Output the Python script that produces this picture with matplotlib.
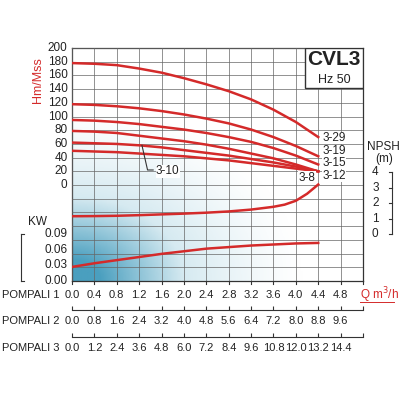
import matplotlib
matplotlib.use('Agg')
import matplotlib.pyplot as plt
import numpy as np
from matplotlib.colors import LinearSegmentedColormap

plt.rcParams['font.family'] = ['Liberation Sans', 'DejaVu Sans']

RED = '#d42a2a'
TXT = '#222222'

q = [0.0, 0.4, 0.8, 1.2, 1.6, 2.0, 2.4, 2.8, 3.2, 3.6, 4.0, 4.4]
head_curves = {
    '3-29': [178, 177, 175, 170, 164, 156, 147, 137, 125, 110, 92, 70],
    '3-19': [118, 117, 115, 112, 108, 103, 97, 90, 81, 70, 57, 42],
    '3-15': [95, 94, 92, 89, 85, 81, 76, 70, 63, 54, 43, 30],
    '3-12': [79, 78, 76, 72, 68, 64, 59, 53, 46, 39, 30, 20],
    '3-10': [62, 61, 60, 58, 55, 51, 47, 43, 38, 33, 27, 20],
    '3-8': [50, 49, 48, 46, 44, 42, 39, 36, 32, 28, 24, 20],
}
npsh_q = [0.0, 0.4, 0.8, 1.2, 1.6, 2.0, 2.4, 2.8, 3.2, 3.6, 3.8, 4.0, 4.2, 4.4]
npsh_m = [1.15, 1.16, 1.18, 1.22, 1.27, 1.32, 1.38, 1.46, 1.58, 1.76, 1.9, 2.15, 2.6, 3.2]
kw_q = [0.0, 0.4, 0.8, 1.2, 1.6, 2.0, 2.4, 2.8, 3.2, 3.6, 4.0, 4.4]
kw_val = [0.027, 0.034, 0.040, 0.046, 0.052, 0.057, 0.062, 0.065, 0.068, 0.070, 0.072, 0.073]

q1_ticks = [0.0, 0.4, 0.8, 1.2, 1.6, 2.0, 2.4, 2.8, 3.2, 3.6, 4.0, 4.4, 4.8]
q2_labels = ['0.0', '0.8', '1.6', '2.4', '3.2', '4.0', '4.8', '5.6', '6.4', '7.2', '8.0', '8.8', '9.6']
q3_labels = ['0.0', '1.2', '2.4', '3.6', '4.8', '6.0', '7.2', '8.4', '9.6', '10.8', '12.0', '13.2', '14.4']
head_ticks = [0, 20, 40, 60, 80, 100, 120, 140, 160, 180, 200]
kw_ticks = [0.0, 0.03, 0.06, 0.09]
npsh_ticks = [0, 1, 2, 3, 4]


def kw_to_head(v):
    return -140 + np.asarray(v) * 761


def npsh_to_head(v):
    return -71.5 + np.asarray(v) * 22.6


fig = plt.figure(figsize=(4, 4), dpi=100)
ax = fig.add_axes([0.18, 0.2975, 0.7275, 0.5825])
ax.set_xlim(0, 5.2)
ax.set_ylim(-140, 200)

# blue gradient background, strongest in bottom-left corner
xx, yy = np.meshgrid(np.linspace(0, 1, 200), np.linspace(0, 1, 200))
strength = np.clip(1 - np.sqrt((xx / 0.8) ** 2 + ((1 - yy) / 0.75) ** 2), 0, 1) ** 1.3
cmap = LinearSegmentedColormap.from_list('bg', ['#ffffff', '#d6eaf1', '#4a9fbf'])
ax.imshow(strength, extent=(0, 5.2, -140, 200), origin='upper', cmap=cmap,
          aspect='auto', zorder=0, vmin=0, vmax=0.85)

ax.set_xticks(np.arange(0, 5.21, 0.4))
ax.set_yticks(np.arange(-140, 201, 20))
ax.grid(True, color='#666666', linewidth=0.5)
ax.set_axisbelow(False)
ax.tick_params(length=0, labelleft=False, labelbottom=False)
for s in ax.spines.values():
    s.set_color('#333333')
    s.set_linewidth(0.9)

for name, h in head_curves.items():
    ax.plot(q, h, color=RED, linewidth=1.8, zorder=3)
ax.plot(npsh_q, npsh_to_head(npsh_m), color=RED, linewidth=1.8, zorder=3)
ax.plot(kw_q, kw_to_head(kw_val), color=RED, linewidth=1.8, zorder=3)

# curve labels
for name, y in [('3-29', 69), ('3-19', 50), ('3-15', 32), ('3-12', 13)]:
    ax.text(4.47, y, name, fontsize=8.5, color=TXT, va='center', zorder=4,
            bbox=dict(facecolor='white', edgecolor='none', pad=0.2))
ax.text(4.35, 11, '3-8', fontsize=8.5, color=TXT, va='center', ha='right', zorder=4,
        bbox=dict(facecolor='white', edgecolor='none', pad=0.2))
ax.plot([1.25, 1.35, 1.45], [58, 22, 22], color='#333333', linewidth=0.8, zorder=4)
ax.text(1.5, 20, '3-10', fontsize=8.5, color=TXT, va='center', zorder=4,
        bbox=dict(facecolor='white', edgecolor='none', pad=0.2))

# title box
ax.add_patch(plt.Rectangle((4.16, 141), 1.04, 59, facecolor='white',
                           edgecolor='#333333', linewidth=1, zorder=4))
ax.text(4.68, 183, 'CVL3', fontsize=15, fontweight='bold', ha='center', va='center',
        color=TXT, zorder=5)
ax.text(4.68, 154, 'Hz 50', fontsize=9, ha='center', va='center', color=TXT, zorder=5)

# head axis labels
for h in head_ticks:
    ax.text(-0.08, h, f'{h}', fontsize=8.5, ha='right', va='center', color=TXT)
fig.text(0.095, 0.8, 'Hm/Mss', rotation=90, color=RED, fontsize=9, ha='center', va='center')

# kw axis
for v in kw_ticks:
    ax.text(-0.08, kw_to_head(v), f'{v:.2f}', fontsize=8.5, ha='right', va='center', color=TXT)
ax.plot([-0.92, -0.92], kw_to_head([0, 0.09]), color='#333333', lw=0.8, clip_on=False)
for v in [0, 0.09]:
    ax.plot([-0.92, -0.86], [kw_to_head(v)] * 2, color='#333333', lw=0.8, clip_on=False)
ax.text(-0.62, kw_to_head(0.102), 'KW', fontsize=8.5, ha='center', va='bottom', color=TXT)

# npsh axis
for v in npsh_ticks:
    ax.text(5.42, npsh_to_head(v), f'{v}', fontsize=8.5, ha='center', va='center', color=TXT,
            clip_on=False)
ax.plot([5.72, 5.72], npsh_to_head([0, 4]), color='#333333', lw=0.8, clip_on=False)
for v in npsh_ticks:
    ax.plot([5.66, 5.72], [npsh_to_head(v)] * 2, color='#333333', lw=0.8, clip_on=False)
ax.text(5.57, 47, 'NPSH\n(m)', fontsize=8.5, ha='center', va='center', color=TXT,
        linespacing=1.0)

# flow scales
label_kw = dict(fontsize=8, color=TXT, ha='center', va='center')
for v in q1_ticks:
    fig.text(0.18 + 0.7275 * v / 5.2, 0.262, f'{v:.1f}', **label_kw)
fig.text(0.005, 0.262, 'POMPALI 1', fontsize=8, color=TXT, va='center')
fig.text(0.9, 0.262, 'Q m$^3$/h', fontsize=8.5, color=RED, va='center')
fig.add_artist(plt.Line2D([0.9, 0.985], [0.245, 0.245], color=RED, lw=0.7))

for row_y, labels, name in [(0.225, q2_labels, 'POMPALI 2'), (0.157, q3_labels, 'POMPALI 3')]:
    sub = fig.add_axes([0.18, row_y, 0.7275, 0.001])
    sub.set_xlim(0, 5.2)
    sub.set_ylim(0, 1)
    for s in ['left', 'right', 'bottom']:
        sub.spines[s].set_visible(False)
    sub.spines['top'].set_color('#333333')
    sub.set_xticks(np.arange(0, 5.21, 0.4))
    sub.set_yticks([])
    sub.tick_params(axis='x', top=True, bottom=False, labelbottom=False, length=3,
                    direction='out', color='#333333')
    sub.patch.set_alpha(0)
    for v, lab in zip(q1_ticks, labels):
        fig.text(0.18 + 0.7275 * v / 5.2, row_y - 0.028, lab, **label_kw)
    fig.text(0.005, row_y - 0.028, name, fontsize=8, color=TXT, va='center')

# ticks under main axes
for v in np.arange(0, 5.21, 0.4):
    ax.plot([v, v], [-140, -145], color='#333333', lw=0.8, clip_on=False)

fig.savefig('out.png', dpi=100)
